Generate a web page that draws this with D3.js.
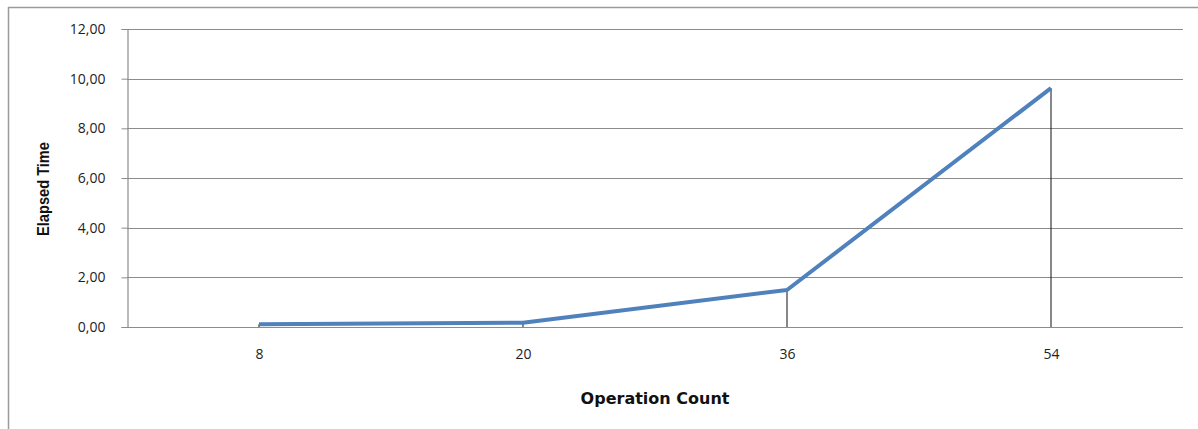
<!DOCTYPE html>
<html>
<head>
<meta charset="utf-8">
<script src="https://cdn.jsdelivr.net/npm/d3@7/dist/d3.min.js"></script>
<style>
  html, body { margin: 0; padding: 0; background: #fff; }
  svg { display: block; }
</style>
</head>
<body>
<svg id="chart" width="1198" height="429"></svg>
<script>
// Elapsed time per operation count
const operationCounts = ["8", "20", "36", "54"];
const elapsedTimes = [0.11, 0.17, 1.49, 9.62];
const yTickValues = [0, 2, 4, 6, 8, 10, 12];

const svg = d3.select("#chart");
const W = 1198, H = 429;
const margin = { left: 127, right: 15, top: 29, bottom: 102 };
const plotRight = W - margin.right;
const plotBottom = H - margin.bottom;

// outer frame (top and left edges)
svg.append("line").attr("x1", 8).attr("x2", W).attr("y1", 7.5).attr("y2", 7.5)
  .attr("stroke", "#9a9a9a").attr("stroke-width", 1.5);
svg.append("line").attr("x1", 8.5).attr("x2", 8.5).attr("y1", 7).attr("y2", H)
  .attr("stroke", "#9a9a9a").attr("stroke-width", 1.5);

const x = d3.scalePoint().domain(operationCounts)
  .range([margin.left, plotRight]).padding(0.5);
const y = d3.scaleLinear().domain([0, 12]).range([plotBottom, margin.top]);

const fmt = v => d3.format(".2f")(v).replace(".", ",");
const tickFont = "'Open Sans', 'Liberation Sans', sans-serif";

// horizontal gridlines
svg.append("g").selectAll("line").data(yTickValues).join("line")
  .attr("x1", margin.left).attr("x2", plotRight)
  .attr("y1", d => Math.round(y(d)) + 0.5).attr("y2", d => Math.round(y(d)) + 0.5)
  .attr("stroke", "#8c8c8c").attr("stroke-width", 1.2);

// y axis
const yAxis = svg.append("g")
  .attr("transform", `translate(${margin.left + 0.5},0)`)
  .call(d3.axisLeft(y).tickValues(yTickValues).tickFormat(fmt).tickSize(6).tickPadding(12));
yAxis.select(".domain").attr("stroke", "#8c8c8c").attr("stroke-width", 1.2);
yAxis.selectAll(".tick line").attr("stroke", "#8c8c8c");
yAxis.selectAll("text").attr("font-family", tickFont)
  .attr("font-size", 14).attr("fill", "#222").attr("dx", -4);

// x axis labels
const xAxis = svg.append("g")
  .attr("transform", `translate(0,${plotBottom})`)
  .call(d3.axisBottom(x).tickSize(0).tickPadding(22));
xAxis.select(".domain").remove();
xAxis.selectAll("text").attr("font-family", tickFont)
  .attr("font-size", 14).attr("fill", "#222");

// drop lines from each point to the category axis
svg.append("g").selectAll("line").data(operationCounts).join("line")
  .attr("x1", d => x(d)).attr("x2", d => x(d))
  .attr("y1", (d, i) => y(elapsedTimes[i])).attr("y2", y(0))
  .attr("stroke", "#111").attr("stroke-width", 1);

// series line
const line = d3.line().x((d, i) => x(operationCounts[i])).y(d => y(d));
svg.append("path").datum(elapsedTimes)
  .attr("d", line)
  .attr("fill", "none").attr("stroke", "#4f81bd")
  .attr("stroke-width", 4).attr("stroke-linejoin", "round");

// axis titles
svg.append("text")
  .attr("x", 655).attr("y", 404)
  .attr("text-anchor", "middle")
  .attr("font-family", "'DejaVu Sans', sans-serif").attr("font-weight", "bold")
  .attr("font-size", 16).attr("fill", "#111")
  .text("Operation Count");

svg.append("text")
  .attr("transform", `translate(49,189) rotate(-90)`)
  .attr("text-anchor", "middle")
  .attr("font-family", "'Liberation Sans Narrow', 'Liberation Sans', Arial, sans-serif")
  .attr("font-weight", "bold")
  .attr("font-size", 17).attr("fill", "#111")
  .attr("textLength", 94).attr("lengthAdjust", "spacingAndGlyphs")
  .text("Elapsed Time");
</script>
</body>
</html>
